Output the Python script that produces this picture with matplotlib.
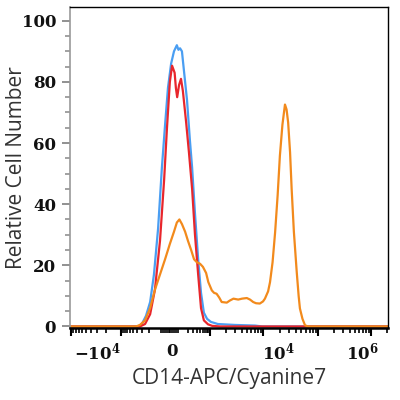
import numpy as np
import matplotlib
matplotlib.use("Agg")
import matplotlib.pyplot as plt

# x values are display channels (0-1000 across the biexponential axis)
red_x = [0, 220, 236, 252, 267, 283, 296, 305, 314, 321, 329, 333, 337, 343, 349, 355,
         365, 374, 384, 393, 403, 412, 421, 434, 447, 472, 1000]
red_y = [0, 0, 0.8, 4, 12, 28, 48, 65, 80, 85.3, 83, 78, 75, 79, 81, 77,
         67, 57, 45, 30, 17, 6, 2, 0.7, 0.2, 0, 0]

blue_x = [0, 214, 226, 239, 252, 264, 277, 289, 299, 308, 318, 327, 336, 341, 346, 352,
          358, 368, 377, 384, 393, 403, 412, 421, 431, 443, 465, 519, 582, 604, 1000]
blue_y = [0, 0, 0.8, 3.5, 8, 17, 32, 52, 66, 78, 86, 90, 92, 90.5, 91, 90,
          84, 74, 61, 52, 37, 22, 11, 4.5, 2.5, 1.5, 0.8, 0.5, 0.3, 0, 0]

orange_x = [0, 208, 220, 236, 252, 267, 283, 299, 314, 327, 336, 344, 352, 362, 371, 381,
            390, 399, 409, 418, 428, 435, 446, 453, 461, 469, 477, 493, 503, 514, 529,
            541, 556, 566, 576, 585, 597, 607, 613, 623, 629, 637, 645, 653, 660, 668,
            676, 681, 686, 692, 697, 704, 713, 719, 723, 731, 739, 748, 1000]
orange_y = [0, 0, 0.5, 2, 6, 12, 17, 22, 27, 31, 34, 35, 33.5, 31, 28, 25,
            22, 21, 20.5, 19.5, 17.5, 14.5, 11.8, 11, 10.7, 9.5, 8.0, 7.8, 8.5, 9.1, 8.8,
            9.1, 9.3, 8.8, 8.0, 7.6, 7.5, 8.2, 9.1, 11.5, 14.5, 21, 30.8, 43, 55.8, 66,
            72.6, 71, 66.7, 57, 45, 31, 17.8, 10, 5.9, 2.5, 0.4, 0, 0]

# axis decorations (channel positions)
decade_ticks = [3, 160, 440, 607, 780, 947]
label_pos = [85, 321, 657, 918]
label_txt = [r'$\mathbf{-10^4}$', r'$\mathbf{0}$', r'$\mathbf{10^4}$', r'$\mathbf{10^6}$']

plt.rcParams['mathtext.fontset'] = 'dejavuserif'

fig = plt.figure(figsize=(4, 4), dpi=100)
ax = fig.add_axes([0.175, 0.18, 0.795, 0.8025])

ax.plot(blue_x, blue_y, color='#4a9ef2', lw=1.6)
ax.plot(red_x, red_y, color='#e8262c', lw=1.6)
ax.plot(orange_x, orange_y, color='#f28a1c', lw=1.6)

ax.set_xlim(0, 1000)
ax.set_ylim(-0.5, 104.5)

# minor ticks: log spacing within decades, dense linear cluster around zero
k = np.log10(np.arange(2, 10))
minors = list(decade_ticks[1] - (decade_ticks[1] - decade_ticks[0]) * k)
minors += list(286 - (286 - decade_ticks[1]) * k)
minors += list(np.arange(286, 342, 6))
minors += list(340 + (decade_ticks[2] - 340) * k)
for a, b in zip(decade_ticks[2:-1], decade_ticks[3:]):
    minors += list(a + (b - a) * k)
minors += [m for m in decade_ticks[-1] + 167 * k if m < 1000]

ax.set_xticks(decade_ticks)
ax.set_xticklabels([])
ax.set_xticks(minors, minor=True)
ax.tick_params(axis='x', which='major', direction='out', length=6, width=1.5, color='black')
ax.tick_params(axis='x', which='minor', direction='out', length=3.5, width=1.2, color='black')

sec = ax.secondary_xaxis('bottom')
sec.set_xticks(label_pos, label_txt)
sec.tick_params(length=0, pad=10, labelsize=12, labelcolor='#111111')
sec.spines['bottom'].set_visible(False)

ax.set_yticks(range(0, 101, 20))
ax.set_yticks(range(0, 101, 5), minor=True)
ax.tick_params(axis='y', which='major', direction='out', length=6, width=1.3, color='#888888', pad=4)
ax.tick_params(axis='y', which='minor', direction='out', length=3.5, width=1.1, color='#888888')
for lab in ax.get_yticklabels():
    lab.set_fontfamily('DejaVu Serif')
    lab.set_fontsize(12)
    lab.set_fontweight('bold')
    lab.set_color('#111111')

ax.spines['left'].set_color('#999999')
ax.spines['left'].set_linewidth(1.2)
ax.spines['bottom'].set_linewidth(1.8)
ax.spines['top'].set_linewidth(1.0)
ax.spines['right'].set_linewidth(1.0)

ax.set_xlabel('CD14-APC/Cyanine7', fontfamily='Open Sans', fontsize=15, color='#333333')
ax.set_ylabel('Relative Cell Number', fontfamily='Open Sans', fontsize=15, color='#333333')
ax.xaxis.set_label_coords(0.5, -0.125)
ax.yaxis.set_label_coords(-0.135, 0.5)

fig.savefig('out.png', dpi=100)
